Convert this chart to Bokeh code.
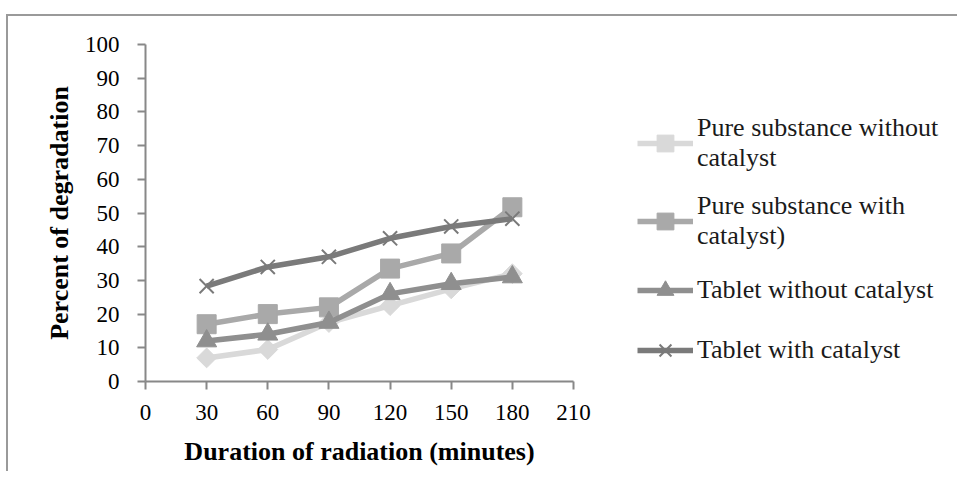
from bokeh.plotting import figure
from bokeh.models import Range1d, FixedTicker, Legend, LegendItem
from bokeh.embed import file_html
from bokeh.resources import INLINE
import math

# ---- data ----
duration = [30, 60, 90, 120, 150, 180]
pure_without = [7, 9.5, 17.5, 22.5, 27.5, 32]
pure_with = [17, 20, 22, 33.5, 38, 51.7]
tablet_without = [12, 14, 17.5, 26, 29, 31]
tablet_with = [28.3, 34, 37, 42.5, 46, 48.3]

x_ticks = [0, 30, 60, 90, 120, 150, 180, 210]
y_ticks = [0, 10, 20, 30, 40, 50, 60, 70, 80, 90, 100]

labels = ["Pure substance without\ncatalyst",
          "Pure substance with\ncatalyst)",
          "Tablet without catalyst",
          "Tablet with catalyst"]
colors = ["#d9d9d9", "#a9a9a9", "#8f8f8f", "#7a7a7a"]

FONT = "Liberation Serif"
AXC = "#888888"

p = figure(frame_width=428, frame_height=337, output_backend="svg", toolbar_location=None,
           x_range=Range1d(0, 210), y_range=Range1d(0, 100),
           min_border_left=137, min_border_right=378, min_border_top=28,
           min_border_bottom=90)
p.styles = {"border-top": "2px solid #9a9a9a", "border-left": "2px solid #9a9a9a",
            "margin-top": "14px", "margin-left": "6px"}
p.outline_line_color = None
p.xgrid.visible = False
p.ygrid.visible = False
p.background_fill_color = "white"
p.border_fill_color = "white"

for ax in (p.xaxis[0], p.yaxis[0]):
    ax.axis_line_color = AXC
    ax.axis_line_width = 2
    ax.major_tick_line_color = AXC
    ax.major_tick_line_width = 2
    ax.major_tick_out = 8
    ax.major_tick_in = 0
    ax.minor_tick_line_color = None
    ax.major_label_text_font = FONT
    ax.major_label_text_font_size = "23px"
    ax.major_label_text_color = "#000000"
    ax.axis_label_text_font = FONT
    ax.axis_label_text_font_size = "26px"
    ax.axis_label_text_font_style = "bold"
    ax.axis_label_text_color = "#000000"

p.xaxis.ticker = FixedTicker(ticks=x_ticks)
p.yaxis.ticker = FixedTicker(ticks=y_ticks)
p.xaxis.axis_label = "Duration of radiation (minutes)"
p.yaxis.axis_label = "Percent of degradation"
p.xaxis.major_label_standoff = 15
p.yaxis.major_label_standoff = 18
p.xaxis.axis_label_standoff = 14
p.yaxis.axis_label_standoff = 8

LW = 5.5
items = []

r1 = p.line(duration, pure_without, line_color=colors[0], line_width=LW)
m1 = p.scatter(duration, pure_without, marker="square", angle=math.pi / 4, size=14,
               fill_color=colors[0], line_color=colors[0])
items.append(LegendItem(label=labels[0], renderers=[r1, m1]))

r2 = p.line(duration, pure_with, line_color=colors[1], line_width=LW)
m2 = p.scatter(duration, pure_with, marker="square", size=19,
               fill_color=colors[1], line_color=colors[1])
items.append(LegendItem(label=labels[1], renderers=[r2, m2]))

r3 = p.line(duration, tablet_without, line_color=colors[2], line_width=LW)
m3 = p.scatter(duration, tablet_without, marker="triangle", size=20,
               fill_color=colors[2], line_color=colors[2])
items.append(LegendItem(label=labels[2], renderers=[r3, m3]))

r4 = p.line(duration, tablet_with, line_color=colors[3], line_width=LW)
m4 = p.scatter(duration, tablet_with, marker="x", size=20,
               line_color=colors[3], line_width=2)
items.append(LegendItem(label=labels[3], renderers=[r4, m4]))

legend = Legend(items=items, location=(64, 10))
legend.label_text_font = FONT
legend.label_text_font_size = "26px"
legend.label_text_color = "#1a1a1a"
legend.glyph_width = 56
legend.glyph_height = 42
legend.label_standoff = 4
legend.spacing = 18
legend.padding = 0
legend.margin = 0
legend.border_line_color = None
legend.background_fill_alpha = 0
p.add_layout(legend, "right")

open("out.html", "w").write(file_html(p, INLINE))
